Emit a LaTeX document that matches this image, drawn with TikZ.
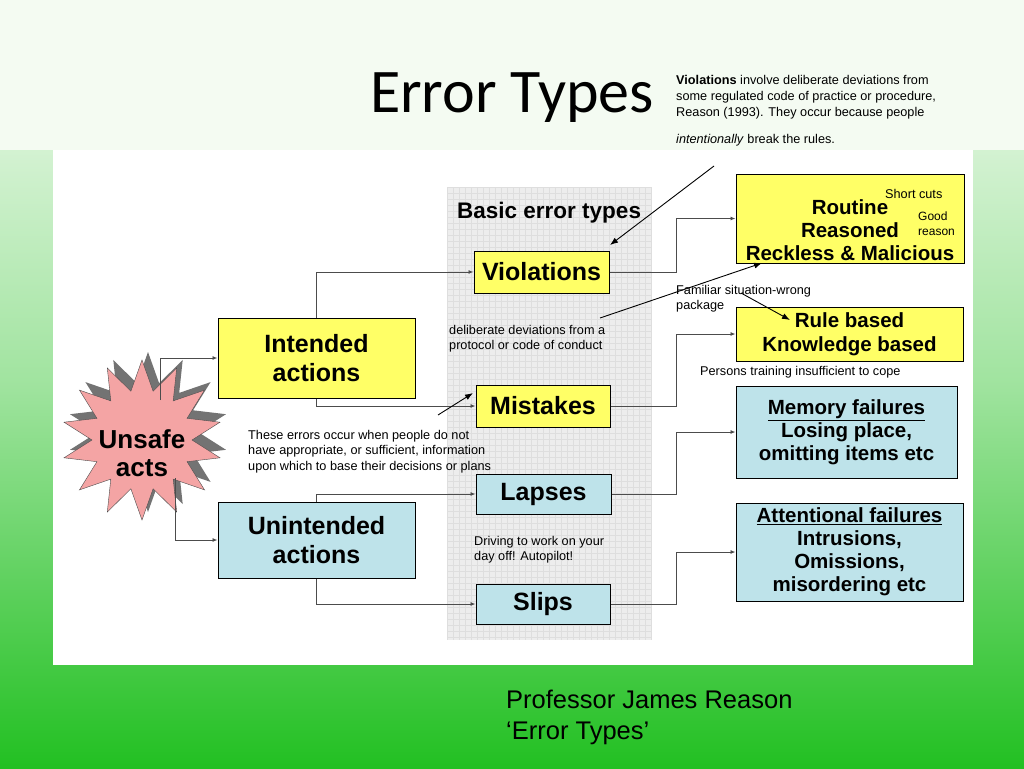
\documentclass[tikz,border=0pt]{standalone}
\usepackage{fontspec}
\setmainfont{Liberation Sans}
\newfontfamily\titlefont{Carlito}
\usetikzlibrary{shapes.geometric,arrows.meta}
\definecolor{ybox}{HTML}{FFFF66}
\definecolor{bbox}{HTML}{BEE3EA}
\definecolor{gtop}{HTML}{F4FBF2}
\definecolor{gbot}{HTML}{22C022}
\definecolor{starc}{HTML}{F4A4A4}
\begin{document}
\begin{tikzpicture}[x=1pt,y=-1pt,
 box/.style={draw=black,line width=1pt,align=center,font=\bfseries\fontsize{25}{29}\selectfont,inner sep=0pt},
 yb/.style={box,fill=ybox},
 bb/.style={box,fill=bbox},
 rb/.style={font=\bfseries\fontsize{20.5}{23}\selectfont},
 conn/.style={draw=black!70,line width=0.9pt,-{Latex[length=5pt,width=4pt]}},
 note/.style={font=\fontsize{12.7}{15.5}\selectfont,align=left,anchor=north west,inner sep=0pt},
 ann/.style={draw=black,line width=0.9pt,-{Latex[length=8pt,width=6pt]}}]
\useasboundingbox (0,0) rectangle (1024,768);
\shade[top color=gtop,bottom color=gbot,middle color=gtop!60!gbot] (0,0) rectangle (1024,768);
\fill[gtop] (0,0) rectangle (1024,150);
\fill[white] (53,150) rectangle (973,665);
% grid
\fill[black!7] (447,187) rectangle (652,640);
\foreach \i in {0,...,34} {\draw[black!13,line width=0.3pt] (447+6*\i,187) -- (447+6*\i,640);}
\foreach \i in {0,...,75} {\draw[black!13,line width=0.3pt] (447,187+6*\i) -- (652,187+6*\i);}
\node[font=\bfseries\fontsize{22.5}{26}\selectfont,anchor=west,inner sep=0pt] (bet) at (457,213) {Basic error types};
\node[font=\titlefont\fontsize{62}{66}\selectfont] (title) at (512,98) {Error Types};
\node[note,font=\fontsize{12.7}{16}\selectfont] (viol) at (676,75) {\textbf{Violations} involve deliberate deviations from\\some regulated code of practice or procedure,\\Reason (1993). They occur because people};
\node[note] (viol2) at (676,134) {\textit{intentionally} break the rules.};
% star
\node[star,star points=14,star point ratio=1.6,minimum size=160pt,fill=black!55] at (148,432) {};
\node[star,star points=14,star point ratio=1.6,minimum size=160pt,fill=starc,draw=black!70] (unsafe) at (142,440) {};
\node[font=\bfseries\fontsize{26}{28}\selectfont,align=center] (unsafetext) at (142,453) {Unsafe\\acts};
% boxes
\node[yb,minimum width=197pt,minimum height=80pt] (int) at (316.5,358) {Intended\\actions};
\node[bb,minimum width=197pt,minimum height=76pt] (unint) at (316.5,540) {Unintended\\actions};
\node[yb,minimum width=135pt,minimum height=42pt] (vio) at (541.5,272) {Violations};
\node[yb,minimum width=134pt,minimum height=42pt] (mis) at (543,406) {Mistakes};
\node[bb,minimum width=135pt,minimum height=40pt] (lap) at (543.5,494) {Lapses};
\node[bb,minimum width=134pt,minimum height=40pt] (sli) at (543,604) {Slips};
\node[yb,minimum width=228pt,minimum height=89pt] (rou) at (850,218.5) {};
\node[rb,align=center,inner sep=0pt] (routext) at (850,230) {Routine\\Reasoned\\Reckless \& Malicious};
\node[yb,rb,font=\bfseries\fontsize{20.5}{24}\selectfont,minimum width=227pt,minimum height=54pt] (rul) at (849.5,334) {Rule based\\Knowledge based};
\node[bb,rb,minimum width=221pt,minimum height=92pt] (mem) at (846.5,432) {\underline{Memory failures}\\Losing place,\\omitting items etc};
\node[bb,rb,minimum width=227pt,minimum height=98pt] (att) at (849.5,552) {\underline{Attentional failures}\\Intrusions,\\Omissions,\\misordering etc};
% connectors
\draw[conn] (160,400) |- (int.west);
\draw[conn] (175,478) |- (unint.west);
\draw[conn] (int.north) |- (vio.west);
\draw[conn] (int.south) |- (mis.west);
\draw[conn] (unint.north) |- (lap.west);
\draw[conn] (unint.south) |- (sli.west);
\draw[conn] (vio.east) -- (676,272) |- (rou.west);
\draw[conn] (mis.east) -- (676,406) |- (rul.west);
\draw[conn] (lap.east) -- (676,494) |- (mem.west);
\draw[conn] (sli.east) -- (676,604) |- (att.west);
% notes
\node[note] (sc) at (885,189) {Short cuts};
\node[note,font=\fontsize{12}{15}\selectfont] (gr) at (918,212) {Good\\reason};
\node[note] (fam) at (676,285) {Familiar situation-wrong\\package};
\node[note] (del) at (449,325) {deliberate deviations from a\\protocol or code of conduct};
\node[note] (per) at (700,366) {Persons training insufficient to cope};
\node[note] (these) at (248,430) {These errors occur when people do not\\have appropriate, or sufficient, information\\upon which to base their decisions or plans};
\node[note] (drv) at (474,536) {Driving to work on your\\day off! Autopilot!};
\node[anchor=north west,inner sep=0pt,font=\fontsize{25.5}{31}\selectfont,align=left] (prof) at (506,690) {Professor James Reason\\‘Error Types’};
% annotation arrows
\coordinate (a1) at (714,166);
\coordinate (a2) at (600,318);
\coordinate (a3) at (741,293);
\coordinate (a4) at (438,415);
\draw[ann] (a1) -- (610,245);
\draw[ann] (a2) -- (762,263);
\draw[ann] (a3) -- (790,320);
\draw[ann] (a4) -- (473,393);
\end{tikzpicture}
\end{document}
